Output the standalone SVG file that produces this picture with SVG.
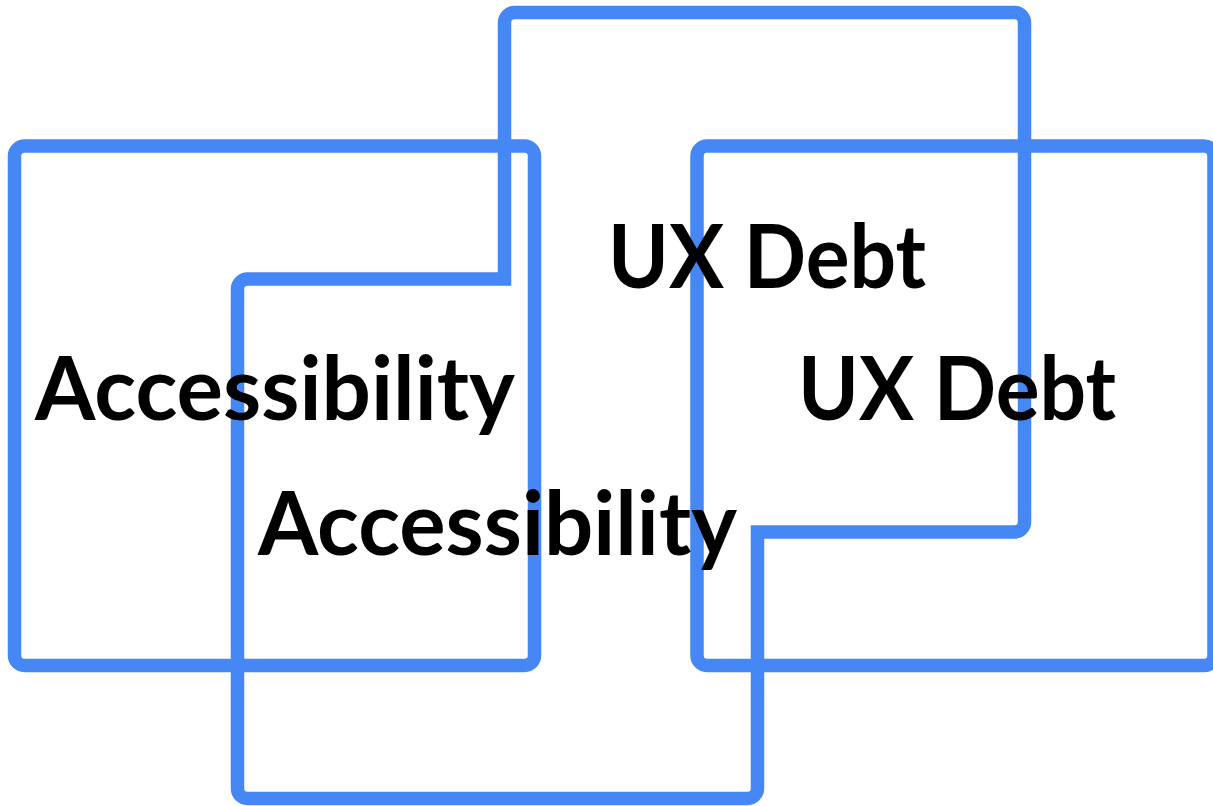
<svg xmlns="http://www.w3.org/2000/svg" width="1213" height="806" viewBox="0 0 1213 806">
  <style>
    .box { fill: none; stroke: #4587F4; stroke-width: 13.5; stroke-linejoin: miter; }
    .lbl { font-family: "Lato", "Liberation Sans", sans-serif; font-weight: 700; font-size: 88px; fill: #000; }
  </style>
  <rect width="1213" height="806" fill="#fff"/>
  <g id="shapes">
    <rect id="box-left" class="box" x="14.5" y="146" width="520" height="519.5" rx="10"/>
    <path id="box-center" class="box" d="M504.5,279 V22.5 A10,10 0 0 1 514.5,12.5 H1014.5 A10,10 0 0 1 1024.5,22.5 V522 A10,10 0 0 1 1014.5,532 H757.5 V788.5 A10,10 0 0 1 747.5,798.5 H247.5 A10,10 0 0 1 237.5,788.5 V289 A10,10 0 0 1 247.5,279 Z"/>
    <rect id="box-right" class="box" x="697" y="146" width="517" height="519.5" rx="10"/>
  </g>
  <g id="node-accessibility-1">
    <text class="lbl" x="35" y="420" textLength="480" lengthAdjust="spacingAndGlyphs">Accessibility</text>
  </g>
  <g id="node-accessibility-2">
    <text class="lbl" x="258" y="555" textLength="479" lengthAdjust="spacingAndGlyphs">Accessibility</text>
  </g>
  <g id="node-uxdebt-1">
    <text class="lbl" x="608" y="288" textLength="318" lengthAdjust="spacingAndGlyphs">UX Debt</text>
  </g>
  <g id="node-uxdebt-2">
    <text class="lbl" x="798" y="420" textLength="318" lengthAdjust="spacingAndGlyphs">UX Debt</text>
  </g>
  <g id="connectors"/>
</svg>
